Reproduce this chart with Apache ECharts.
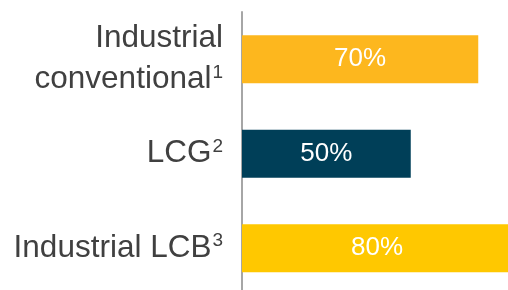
<!DOCTYPE html>
<html>
<head>
<meta charset="utf-8">
<script src="https://cdn.jsdelivr.net/npm/echarts@6/dist/echarts.min.js"></script>
<style>
  html, body { margin: 0; padding: 0; background: #fff; }
  #chart { width: 508px; height: 290px; }
</style>
</head>
<body>
<div id="chart"></div>
<script>
// categories, top to bottom
var categories = ["Industrial\nconventional", "LCG", "Industrial LCB"];
// footnote marks shown as superscripts
var footnotes = ["1", "2", "3"];
// values in %
var values = [70, 50, 80];
var barColors = ["#FDB71E", "#003F58", "#FFC800"];

var myChart = echarts.init(document.getElementById("chart"));

var seriesData = [];
for (var i = 0; i < values.length; i++) {
    seriesData.push({ value: values[i], itemStyle: { color: barColors[i] } });
}

var option = {
    animation: false,
    grid: { left: 242, top: 12, width: 270, height: 283.5, outerBoundsMode: "none" },
    xAxis: {
        type: "value",
        min: 0,
        max: 80,
        show: false
    },
    yAxis: {
        type: "category",
        inverse: true,
        data: categories,
        axisLine: { show: true, lineStyle: { color: "#A6A6A6", width: 2 } },
        axisTick: { show: false },
        axisLabel: {
            margin: 19,
            fontFamily: "Liberation Sans, Arial, sans-serif",
            fontSize: 31.5,
            lineHeight: 41,
            color: "#404040",
            formatter: function (value, index) {
                return value + "{s|" + footnotes[index] + "}";
            },
            rich: {
                s: {
                    fontFamily: "Liberation Sans, Arial, sans-serif",
                    fontSize: 19,
                    lineHeight: 19,
                    color: "#404040",
                    padding: [0, 0, 14, 1]
                }
            }
        }
    },
    series: [{
        type: "bar",
        data: seriesData,
        barWidth: 48,
        label: {
            show: true,
            position: "inside",
            formatter: "{c}%",
            color: "#fff",
            fontFamily: "Liberation Sans, Arial, sans-serif",
            fontSize: 26
        }
    }]
};

myChart.setOption(option);
</script>
</body>
</html>
